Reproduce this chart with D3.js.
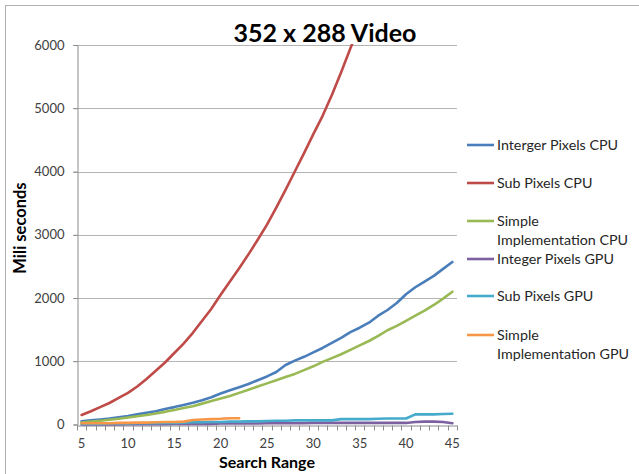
<!DOCTYPE html>
<html>
<head>
<meta charset="utf-8">
<script src="https://cdn.jsdelivr.net/npm/d3@7"></script>
<style>
  html, body { margin: 0; padding: 0; background: #fff; }
  svg { display: block; }
  text { font-family: Lato, "Open Sans", sans-serif; }
</style>
</head>
<body>
<svg id="chart" width="639" height="474"></svg>
<script>
// Search range values (x categories)
const searchRange = d3.range(5, 46);

// Execution time in milliseconds per search range
const intergerPixelsCPU = [50, 65, 80, 95, 115, 135, 160, 185, 210, 245, 275, 310, 345, 385, 430, 490, 540, 590, 640, 700, 760, 830, 940, 1010, 1070, 1140, 1210, 1290, 1370, 1460, 1530, 1610, 1720, 1810, 1920, 2060, 2170, 2260, 2350, 2460, 2570];
const subPixelsCPU = [150, 210, 275, 340, 420, 500, 600, 720, 850, 980, 1130, 1280, 1450, 1640, 1830, 2050, 2260, 2470, 2690, 2920, 3160, 3430, 3710, 4000, 4290, 4590, 4880, 5210, 5570, 5950, 6300];
const simpleImplCPU = [30, 45, 60, 75, 90, 110, 130, 150, 175, 200, 230, 260, 290, 330, 370, 410, 450, 500, 550, 600, 650, 700, 750, 800, 860, 920, 990, 1050, 1110, 1180, 1250, 1320, 1400, 1490, 1560, 1640, 1720, 1800, 1890, 1990, 2100];
const integerPixelsGPU = [0, 0, 0, 0, 0, 5, 5, 5, 5, 5, 10, 10, 10, 10, 10, 15, 15, 15, 15, 15, 20, 20, 20, 20, 20, 25, 25, 25, 25, 25, 25, 25, 25, 25, 25, 25, 40, 45, 45, 40, 20];
const subPixelsGPU = [10, 10, 10, 15, 15, 15, 20, 20, 20, 25, 25, 30, 35, 35, 40, 40, 45, 45, 50, 50, 55, 60, 60, 65, 65, 65, 65, 65, 85, 85, 85, 85, 90, 95, 95, 95, 160, 160, 160, 165, 170];
const simpleImplGPU = [20, 20, 20, 20, 25, 25, 30, 30, 35, 40, 40, 45, 70, 80, 85, 90, 100, 100];

const seriesNames = ["Interger Pixels CPU", "Sub Pixels CPU", "Simple Implementation CPU", "Integer Pixels GPU", "Sub Pixels GPU", "Simple Implementation GPU"];
const legendLines = [["Interger Pixels CPU"], ["Sub Pixels CPU"], ["Simple", "Implementation CPU"], ["Integer Pixels GPU"], ["Sub Pixels GPU"], ["Simple", "Implementation GPU"]];
const seriesValues = [intergerPixelsCPU, subPixelsCPU, simpleImplCPU, integerPixelsGPU, subPixelsGPU, simpleImplGPU];
const seriesColors = ["#4A7EBB", "#BE4B48", "#98B954", "#7D60A0", "#46AACD", "#F79646"];
const yTicks = [0, 1000, 2000, 3000, 4000, 5000, 6000];
const xLabelEvery = 5;

const svg = d3.select("#chart");
const plot = { left: 77, right: 457, top: 45, bottom: 424.5 };

// Outer chart frame (top and left edges)
svg.append("line").attr("x1", 5).attr("x2", 639).attr("y1", 5.5).attr("y2", 5.5)
  .attr("stroke", "#b0b0b0").attr("stroke-width", 1);
svg.append("line").attr("x1", 5.5).attr("x2", 5.5).attr("y1", 5).attr("y2", 474)
  .attr("stroke", "#b0b0b0").attr("stroke-width", 1);

const x = d3.scaleBand().domain(searchRange).range([plot.left, plot.right]).padding(0);
const y = d3.scaleLinear().domain([0, 6000]).range([plot.bottom, plot.top]);
const cx = v => x(v) + x.bandwidth() / 2;

// Horizontal gridlines
svg.append("g").selectAll("line").data(yTicks.filter(t => t > 0)).join("line")
  .attr("x1", plot.left - 4).attr("x2", plot.right)
  .attr("y1", d => Math.round(y(d)) + 0.5).attr("y2", d => Math.round(y(d)) + 0.5)
  .attr("stroke", "#b4b4b4").attr("stroke-width", 1);

// Y axis
const yAxis = svg.append("g").attr("transform", `translate(${plot.left + 0.5},0)`)
  .call(d3.axisLeft(y).tickValues(yTicks).tickSize(4).tickPadding(9).tickFormat(d3.format("d")));
yAxis.select(".domain").attr("stroke", "#8c8c8c");
yAxis.selectAll(".tick line").attr("stroke", "#8c8c8c");
yAxis.selectAll(".tick text").attr("font-family", "Lato, sans-serif").attr("font-size", 13).attr("fill", "#404040");

// X axis: category boundary tick marks, labels every fifth category
const xAxis = svg.append("g").attr("transform", `translate(0,${Math.round(plot.bottom) + 0.5})`)
  .call(d3.axisBottom(x).tickSize(0).tickPadding(13)
    .tickFormat(d => (d % xLabelEvery === 0 ? d : "")));
xAxis.select(".domain").attr("stroke", "#8c8c8c");
xAxis.selectAll(".tick text").attr("font-family", "Lato, sans-serif").attr("font-size", 13).attr("fill", "#404040");
const bounds = searchRange.map(v => x(v)).concat([plot.right]);
xAxis.append("g").selectAll("line").data(bounds).join("line")
  .attr("x1", d => Math.round(d) + 0.5).attr("x2", d => Math.round(d) + 0.5)
  .attr("y1", 0).attr("y2", 5).attr("stroke", "#8c8c8c");

// Clip lines to the plot area
svg.append("defs").append("clipPath").attr("id", "plotClip")
  .append("rect").attr("x", plot.left).attr("y", plot.top - 1)
  .attr("width", plot.right - plot.left + 2).attr("height", plot.bottom - plot.top + 3);

const line = d3.line().x(d => cx(d.x)).y(d => y(d.y));
const lines = svg.append("g").attr("clip-path", "url(#plotClip)");
seriesValues.forEach((vals, i) => {
  const pts = vals.map((v, j) => ({ x: searchRange[j], y: v }));
  lines.append("path").datum(pts)
    .attr("d", line).attr("fill", "none")
    .attr("stroke", seriesColors[i]).attr("stroke-width", 2.6)
    .attr("stroke-linejoin", "round").attr("stroke-linecap", "round");
});

// Title
svg.append("text").attr("x", 325).attr("y", 42).attr("text-anchor", "middle")
  .attr("font-size", 25).attr("font-weight", "bold").attr("fill", "#000")
  .text("352 x 288 Video");

// Axis titles
svg.append("text").attr("x", 267).attr("y", 468).attr("text-anchor", "middle")
  .attr("font-size", 16).attr("font-weight", "bold").attr("fill", "#000")
  .text("Search Range");
svg.append("text").attr("transform", "translate(26,228) rotate(-90)").attr("text-anchor", "middle")
  .attr("font-size", 16.5).attr("font-weight", "bold").attr("fill", "#000")
  .text("Mili seconds");

// Legend
const legendY = [145, 183, 221, 259, 296, 335];
const legend = svg.append("g");
seriesNames.forEach((name, i) => {
  const g = legend.append("g").attr("transform", `translate(0,${legendY[i]})`);
  g.append("line").attr("x1", 467).attr("x2", 494).attr("y1", 0).attr("y2", 0)
    .attr("stroke", seriesColors[i]).attr("stroke-width", 2.6);
  const t = g.append("text").attr("x", 497).attr("y", 0)
    .attr("font-size", 14.3).attr("fill", "#262626");
  legendLines[i].forEach((ln, k) => {
    t.append("tspan").attr("x", 497).attr("dy", k === 0 ? "0.35em" : 19).text(ln);
  });
});
</script>
</body>
</html>
